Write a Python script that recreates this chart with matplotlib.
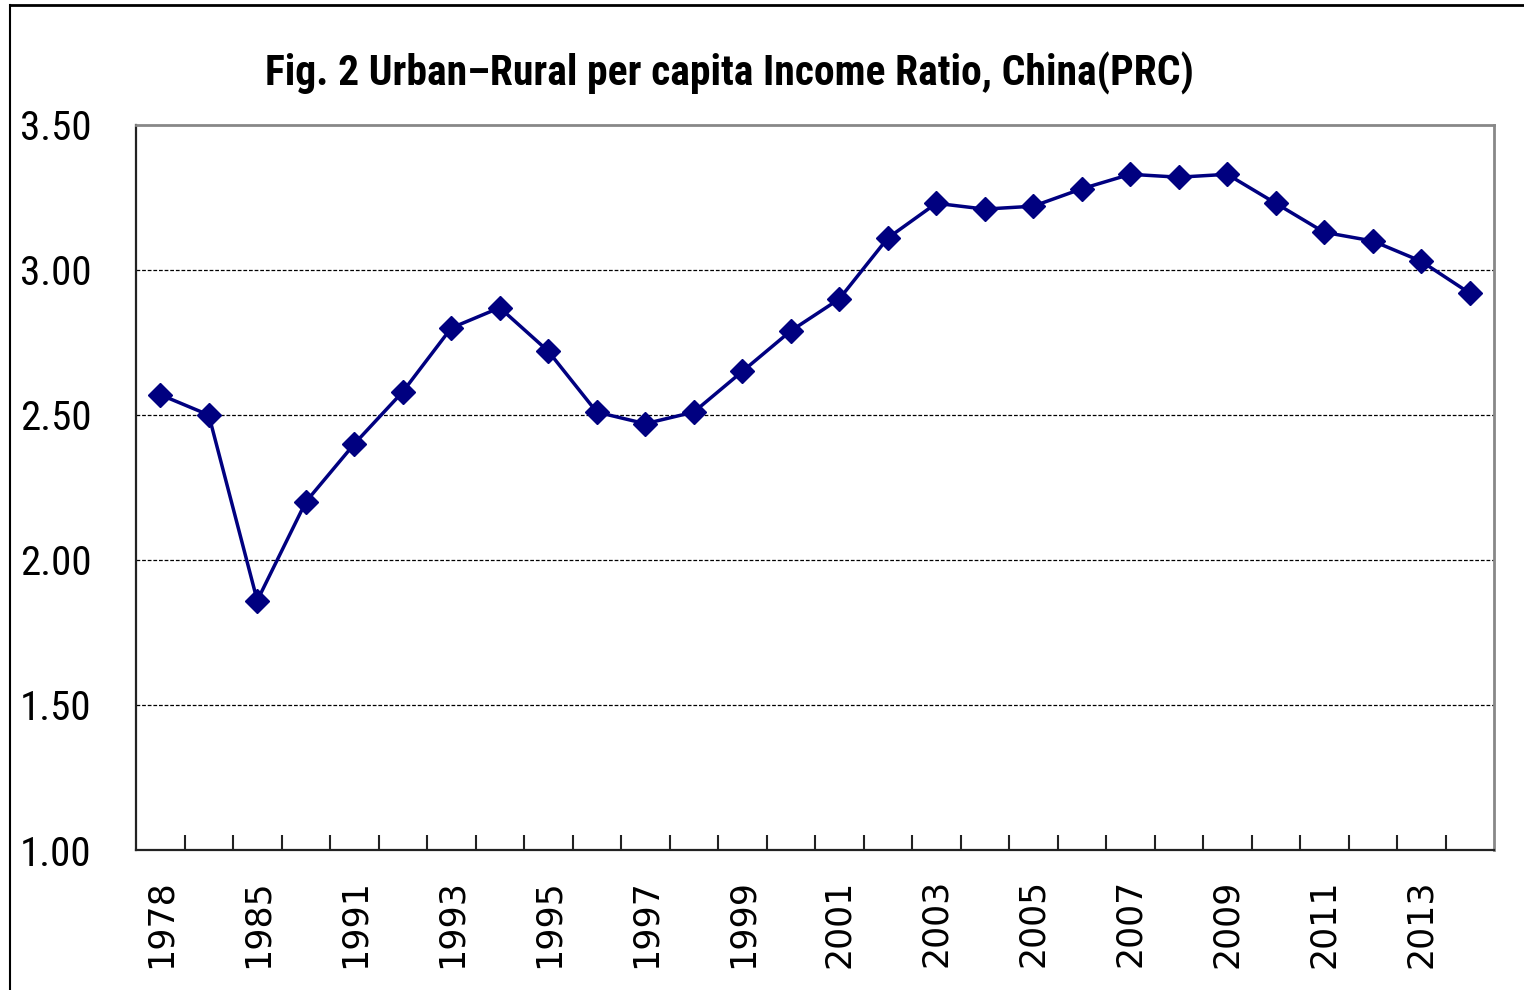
import numpy as np
import matplotlib.pyplot as plt
from matplotlib.lines import Line2D

years = [1978, 1980, 1985, 1990, 1991, 1992, 1993, 1994, 1995, 1996, 1997, 1998,
         1999, 2000, 2001, 2002, 2003, 2004, 2005, 2006, 2007, 2008, 2009, 2010,
         2011, 2012, 2013, 2014]
ratio = [2.57, 2.50, 1.86, 2.20, 2.40, 2.58, 2.80, 2.87, 2.72, 2.51, 2.47, 2.51,
         2.65, 2.79, 2.90, 3.11, 3.23, 3.21, 3.22, 3.28, 3.33, 3.32, 3.33, 3.23,
         3.13, 3.10, 3.03, 2.92]
yticks = [1.00, 1.50, 2.00, 2.50, 3.00, 3.50]

narrow = ['Roboto Condensed', 'DejaVu Sans']

fig = plt.figure(figsize=(15.24, 9.9), dpi=100)
ax = fig.add_axes([136/1524, 1-850/990, (1494-136)/1524, (850-125)/990])

x = np.arange(len(years))
ax.plot(x, ratio, color='#000080', lw=2.5, marker='D', ms=12, zorder=3)

ax.set_xlim(-0.5, len(years)-0.5)
ax.set_ylim(1.0, 3.5)

# gridlines
for g in yticks[1:-1]:
    ax.axhline(g, color='black', lw=0.9, ls=(0, (3, 1.5)), zorder=1)

ax.set_yticks(yticks)
ax.set_yticklabels(['%.2f' % v for v in yticks], family=narrow, fontsize=29.5)
ax.tick_params(axis='y', length=0, pad=32)

ax.set_xticks(x[::2])
ax.set_xticklabels([str(y) for y in years[::2]], rotation=90, family='DejaVu Sans', fontsize=25)
ax.tick_params(axis='x', which='major', length=0, pad=21)
ax.set_xticks(x[:-1] + 0.5, minor=True)
ax.tick_params(axis='x', which='minor', direction='in', length=11, width=1.5, color='#222222')

for s in ['left', 'bottom']:
    ax.spines[s].set_color('#222222')
    ax.spines[s].set_linewidth(1.6)
for s in ['top', 'right']:
    ax.spines[s].set_color('#888888')
    ax.spines[s].set_linewidth(2)

fig.text(729/1524, 1-73/990, 'Fig. 2 Urban\u2013Rural per capita Income Ratio, China(PRC)',
         family=narrow, fontweight='bold', fontsize=30, ha='center', va='center')

# outer frame (top and left edges)
fig.add_artist(Line2D([10/1524, 1], [1-5/990, 1-5/990], color='black', lw=2))
fig.add_artist(Line2D([10/1524, 10/1524], [0, 1-5/990], color='black', lw=1.5))

fig.savefig('out.png', dpi=100)
